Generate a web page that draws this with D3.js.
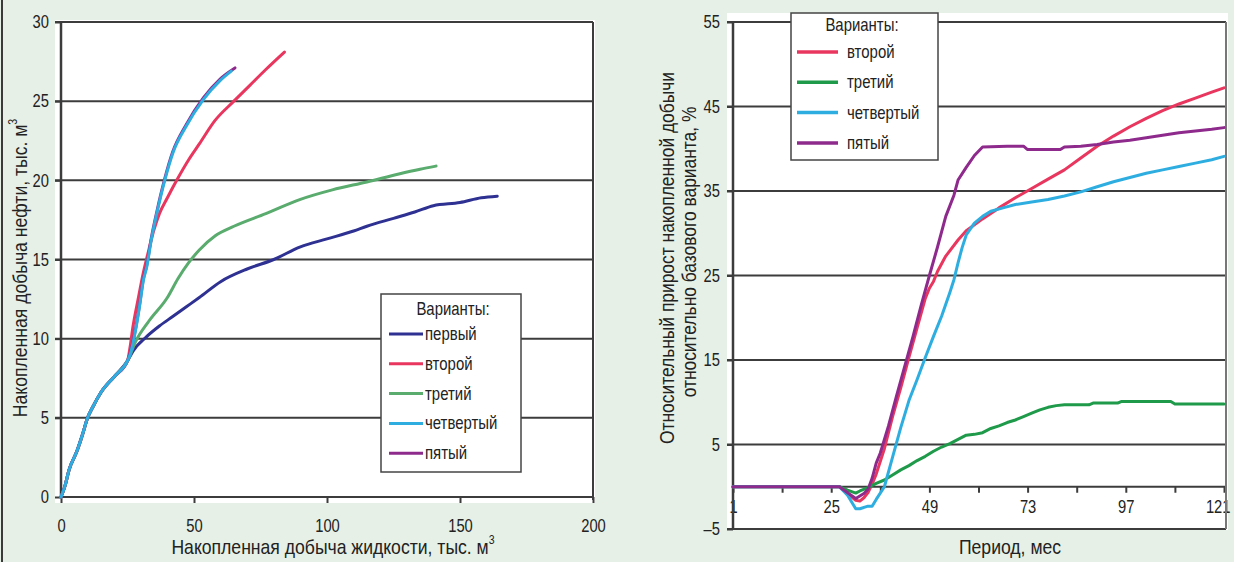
<!DOCTYPE html>
<meta charset="utf-8">
<style>
body { margin: 0; background: #e6f0e7; }
svg { display: block; }
.grid { stroke: #3c3c3c; stroke-width: 2; }
.frame { stroke: #3c3c3c; stroke-width: 2; fill: none; }
.axis line { stroke: #3c3c3c; stroke-width: 2; }
.axis text { fill: #222; }
.line { fill: none; stroke-width: 3; stroke-linejoin: round; stroke-linecap: round; }
.title { font-size: 20px; fill: #222; }
.legend text { font-size: 18px; fill: #222; }
</style>
<svg width="1234" height="562"></svg>
<script src="https://cdn.jsdelivr.net/npm/d3@7"></script>
<script>

var FONT = '"Liberation Sans",Arial,sans-serif';

// --- left chart: cumulative oil vs cumulative liquid (thousand m3)
var leftXTicks = [0, 50, 100, 150, 200],
    leftYTicks = [0, 5, 10, 15, 20, 25, 30];

var oilBase = [[0,0],[1.5,0.7],[3,1.7],[6,2.9],[8,3.9],[10,5.0],[12,5.7],[15,6.6],[20,7.6],[25,8.6]];
var oilFirst = [[27,9.2],[32,10.1],[37,10.8],[42,11.4],[47,12.0],[52,12.6],[60,13.6],[70,14.4],[80,15.0],[90,15.8],[100,16.3],[110,16.8],[115,17.1],[125,17.6],[133,18.0],[140,18.4],[150,18.6],[158,18.9],[164,19.0]];
var oilSecond = [[26,9.5],[27,10.7],[29,12.5],[31,14.2],[33,15.6],[35,16.9],[37,17.9],[40,18.9],[43.5,20.0],[48,21.3],[52,22.3],[58,23.8],[65,25.0],[71,26.0],[77,27.0],[84,28.1]];
var oilThird = [[28,9.8],[33,11.1],[40,12.6],[44,13.8],[48,14.8],[52,15.6],[58,16.5],[65,17.1],[77,17.9],[90,18.8],[102,19.4],[115,19.9],[127,20.4],[135,20.7],[141,20.9]];
var oilFourth = [[26,9.0],[28,10.5],[29.5,12.0],[31,13.7],[32.2,14.5],[34,16.3],[36,17.9],[39,20.0],[42,21.7],[47,23.4],[53.5,25.1],[59.8,26.3],[64,26.9]];
var oilFifth = [[26,9.1],[28,10.6],[29.5,12.1],[31,13.8],[32.2,14.6],[34,16.4],[36,18.0],[39,20.1],[42,21.8],[47,23.5],[53.5,25.2],[59.8,26.4],[65.4,27.1]];

// --- right chart: relative increase vs base variant (%), by month
var rightXTicks = [1, 25, 49, 73, 97, 121],
    rightXMinor = [13, 37, 61, 85, 109],
    rightYTicks = [-5, 5, 15, 25, 35, 45, 55];

var relSecond = [[1,0],[27,0],[29,-0.8],[31,-1.6],[32,-1.7],[33,-1.3],[34,-0.7],[35,0.3],[36,1.5],[38,4.5],[40,8.3],[42,11.7],[44,15.3],[46,18.8],[48,22.3],[49,23.5],[50,24.3],[51,25.5],[53,27.3],[56,29.2],[58,30.3],[62,31.7],[66,33],[70,34.2],[74,35.3],[78,36.4],[82,37.5],[86,38.9],[90,40.3],[94,41.5],[98,42.6],[102,43.6],[106,44.5],[110,45.3],[114,46],[118,46.7],[121,47.2]];
var relThird = [[1,0],[27,0],[29,-0.4],[31,-0.75],[32,-0.5],[34,-0.1],[36,0.4],[38,0.8],[40,1.4],[42,2],[44,2.5],[46,3.1],[48,3.6],[50,4.2],[52,4.7],[54,5.1],[56,5.6],[58,6.1],[60,6.2],[62,6.4],[64,6.9],[66,7.2],[68,7.6],[70,7.9],[72,8.3],[74,8.7],[76,9.1],[78,9.4],[80,9.6],[82,9.7],[88,9.7],[89,9.9],[95,9.9],[96,10.1],[108,10.1],[109,9.8],[121,9.8]];
var relFourth = [[1,0],[27,0],[29,-1],[31,-2.6],[32,-2.6],[34,-2.3],[35,-2.3],[36,-1.5],[38,0],[40,3.5],[42,7],[44,10.2],[46,12.7],[48,15.3],[50,17.8],[52,20.2],[54,23],[55,24.5],[56,26.5],[57,28.3],[58,29.8],[60,31.2],[62,32],[64,32.6],[67,33],[70,33.4],[74,33.7],[78,34],[82,34.4],[86,34.9],[90,35.5],[94,36.1],[98,36.6],[102,37.1],[106,37.5],[110,37.9],[114,38.3],[118,38.7],[121,39.1]];
var relFifth = [[1,0],[27,0],[29,-0.7],[31,-1.4],[33,-0.8],[34,-0.3],[35,1],[36,2.8],[37,4],[39,7.2],[41,10.8],[43,14.3],[45,17.8],[47,21.5],[49,25],[51,28.4],[53,32],[55,34.5],[56,36.3],[58,37.8],[60,39.2],[62,40.2],[68,40.3],[72,40.3],[73,39.9],[81,39.9],[82,40.2],[86,40.3],[90,40.5],[94,40.8],[98,41],[102,41.3],[106,41.6],[110,41.9],[114,42.1],[118,42.3],[121,42.5]];

var names = ["первый", "второй", "третий", "четвертый", "пятый"];

var svg = d3.select("svg").attr("font-family", FONT);

// the reference uses a condensed face; squeeze Liberation Sans horizontally
function squeeze(sel, sx, extra) {
  sel.each(function() {
    var t = d3.select(this), x = +t.attr("x") || 0, y = +t.attr("y") || 0;
    t.attr("x", 0).attr("y", 0)
     .attr("transform", "translate(" + x + "," + y + ")" + (extra || "") + " scale(" + sx + ",1)");
  });
}

// dark edge on the left of the panel
svg.append("rect").attr("x", 1).attr("y", 0).attr("width", 2).attr("height", 562).attr("fill", "#3a3a3a");

function axisStyle(g) {
  g.attr("font-size", 18).attr("font-family", FONT);
  g.select(".domain").remove();
  squeeze(g.selectAll("text"), 0.82);
}

// ================= LEFT =================
var xL = d3.scaleLinear().domain([0, 200]).range([61, 593]),
    yL = d3.scaleLinear().domain([0, 30]).range([497, 22]);

svg.append("rect").attr("x", 55).attr("y", 20).attr("width", 540).attr("height", 483).attr("fill", "#fff");

svg.append("g").selectAll("line").data(leftYTicks.filter(function(d) { return d > 0; }))
  .enter().append("line").attr("class", "grid")
    .attr("x1", 55).attr("x2", xL(200))
    .attr("y1", function(d) { return yL(d); }).attr("y2", function(d) { return yL(d); });

svg.append("g").attr("class", "axis")
    .attr("transform", "translate(" + xL(0) + ",0)")
    .call(d3.axisLeft(yL).tickValues(leftYTicks).tickSize(6).tickPadding(6))
    .call(axisStyle);

svg.append("g").attr("class", "axis")
    .attr("transform", "translate(0," + yL(0) + ")")
    .call(d3.axisBottom(xL).tickValues(leftXTicks).tickSize(6).tickPadding(16))
    .call(axisStyle);

svg.append("line").attr("class", "frame").attr("x1", xL(0)).attr("x2", xL(0)).attr("y1", yL(30)).attr("y2", yL(0) + 1).style("stroke-width", 2.5);
svg.append("line").attr("class", "frame").attr("x1", xL(0)).attr("x2", xL(200)).attr("y1", yL(0)).attr("y2", yL(0));
svg.append("line").attr("class", "frame").attr("x1", xL(200)).attr("x2", xL(200)).attr("y1", yL(30)).attr("y2", yL(0) + 3);

var lineL = d3.line().curve(d3.curveMonotoneX)
    .x(function(d) { return xL(d[0]); }).y(function(d) { return yL(d[1]); });

var leftSeries = [
  {name: names[0], color: "#2e3192", data: oilBase.concat(oilFirst)},
  {name: names[1], color: "#e8365f", data: oilBase.concat(oilSecond)},
  {name: names[2], color: "#5aab6e", data: oilBase.concat(oilThird)},
  {name: names[3], color: "#2eaee0", data: oilBase.concat(oilFourth)},
  {name: names[4], color: "#8e2a8c", data: oilBase.concat(oilFifth)}
];

[0, 1, 2, 4, 3].forEach(function(i) {
  svg.append("path").attr("class", "line")
    .attr("d", lineL(leftSeries[i].data))
    .attr("stroke", leftSeries[i].color);
});

var tL = svg.append("text").attr("class", "title").attr("text-anchor", "middle")
    .attr("x", 333).attr("y", 554);
tL.append("tspan").text("Накопленная добыча жидкости, тыс. м");
tL.append("tspan").attr("font-size", 12).attr("dy", -10).text("3");
squeeze(tL, 0.88);

var tLy = svg.append("text").attr("class", "title").attr("text-anchor", "middle")
    .attr("x", 27).attr("y", 268);
tLy.append("tspan").text("Накопленная добыча нефти, тыс. м");
tLy.append("tspan").attr("font-size", 12).attr("dy", -10).text("3");
squeeze(tLy, 0.88, " rotate(-90)");

var legL = svg.append("g").attr("class", "legend");
legL.append("rect").attr("x", 381).attr("y", 294).attr("width", 140).attr("height", 178)
    .attr("fill", "#fff").attr("stroke", "#444").attr("stroke-width", 1.5);
legL.append("text").attr("x", 453).attr("y", 315).attr("text-anchor", "middle").text("Варианты:");
leftSeries.forEach(function(s, i) {
  var cy = 334 + i * 29.8;
  legL.append("line").attr("x1", 389).attr("x2", 423).attr("y1", cy).attr("y2", cy)
      .attr("stroke", s.color).attr("stroke-width", 3);
  legL.append("text").attr("x", 425).attr("y", cy + 6).text(s.name);
});
squeeze(legL.selectAll("text"), 0.83);

// ================= RIGHT =================
var xR = d3.scaleLinear().domain([1, 121]).range([733, 1224]),
    yR = d3.scaleLinear().domain([-5, 55]).range([529, 22]);

svg.append("rect").attr("x", 727).attr("y", 13).attr("width", 501).attr("height", 517).attr("fill", "#fff");

svg.append("g").selectAll("line").data(rightYTicks)
  .enter().append("line").attr("class", "grid")
    .attr("x1", 727).attr("x2", 1226)
    .attr("y1", function(d) { return yR(d); }).attr("y2", function(d) { return yR(d); });

svg.append("g").attr("class", "axis")
    .attr("transform", "translate(" + xR(1) + ",0)")
    .call(d3.axisLeft(yR).tickValues(rightYTicks).tickSize(6).tickPadding(7)
      .tickFormat(function(d) { return d < 0 ? "–" + (-d) : d; }))
    .call(axisStyle);

var xAxR = svg.append("g").attr("class", "axis")
    .attr("transform", "translate(0," + yR(0) + ")")
    .call(d3.axisBottom(xR).tickValues(rightXTicks).tickSize(6).tickPadding(7))
    .call(axisStyle);
// last label sits against the frame in the reference
xAxR.selectAll(".tick").filter(function(d) { return d === 121; }).select("text")
    .attr("text-anchor", "end").attr("transform", function() {
      return d3.select(this).attr("transform").replace("translate(0", "translate(6");
    });

svg.append("g").attr("class", "axis")
    .attr("transform", "translate(0," + yR(0) + ")")
    .call(d3.axisBottom(xR).tickValues(rightXMinor).tickSize(6).tickFormat(""))
    .call(axisStyle);

svg.append("line").attr("class", "frame").attr("x1", xR(1)).attr("x2", 1226).attr("y1", yR(0)).attr("y2", yR(0));
svg.append("line").attr("class", "frame").attr("x1", xR(1)).attr("x2", xR(1)).attr("y1", yR(55)).attr("y2", yR(-5)).style("stroke-width", 2.5);
svg.append("line").attr("class", "frame").attr("x1", 1226).attr("x2", 1226).attr("y1", yR(55)).attr("y2", yR(-5)).style("stroke", "#777");

var lineR = d3.line().x(function(d) { return xR(d[0]); }).y(function(d) { return yR(d[1]); });

var rightSeries = [
  {name: names[1], color: "#e8365f", data: relSecond},
  {name: names[2], color: "#1e9a4a", data: relThird},
  {name: names[3], color: "#2eaee0", data: relFourth},
  {name: names[4], color: "#8e2a8c", data: relFifth}
];

rightSeries.forEach(function(s) {
  svg.append("path").attr("class", "line")
    .attr("d", lineR(s.data))
    .attr("stroke", s.color);
});

var tR = svg.append("text").attr("class", "title").attr("text-anchor", "middle")
    .attr("x", 1010).attr("y", 554).text("Период, мес");
squeeze(tR, 0.88);

var tRy1 = svg.append("text").attr("class", "title").attr("text-anchor", "middle")
    .attr("x", 674).attr("y", 258).text("Относительный прирост накопленной добычи");
squeeze(tRy1, 0.87, " rotate(-90)");
var tRy2 = svg.append("text").attr("class", "title").attr("text-anchor", "middle")
    .attr("x", 696).attr("y", 252).text("относительно базового варианта, %");
squeeze(tRy2, 0.87, " rotate(-90)");

var legR = svg.append("g").attr("class", "legend");
legR.append("rect").attr("x", 791).attr("y", 13).attr("width", 147).attr("height", 147)
    .attr("fill", "#fff").attr("stroke", "#444").attr("stroke-width", 1.5);
legR.append("text").attr("x", 862).attr("y", 31).attr("text-anchor", "middle").text("Варианты:");
rightSeries.forEach(function(s, i) {
  var cy = 52 + i * 30.3;
  legR.append("line").attr("x1", 797).attr("x2", 838).attr("y1", cy).attr("y2", cy)
      .attr("stroke", s.color).attr("stroke-width", 3.5);
  legR.append("text").attr("x", 847).attr("y", cy + 6).text(s.name);
});
squeeze(legR.selectAll("text"), 0.83);

</script>
